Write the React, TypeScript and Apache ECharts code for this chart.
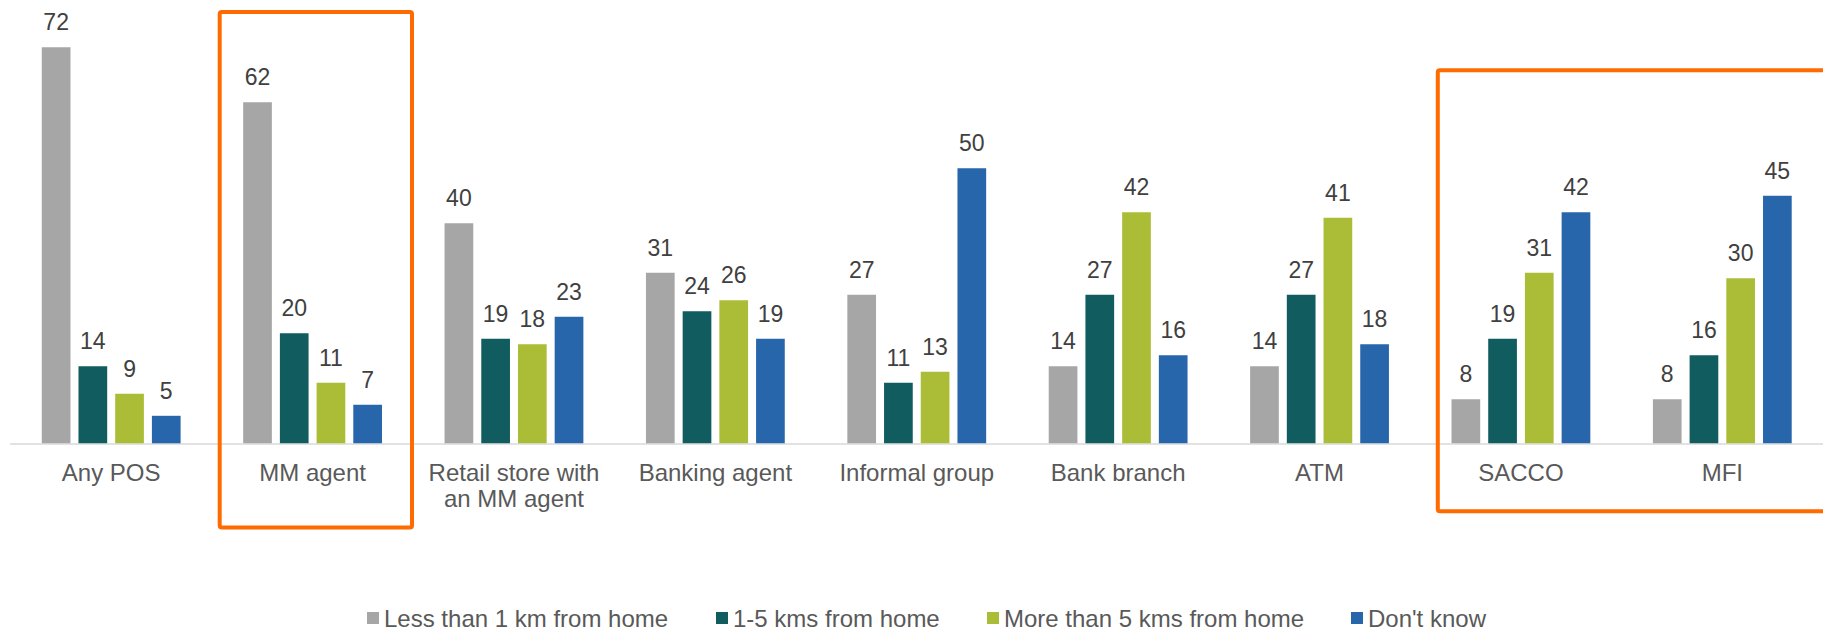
import React, { useEffect, useRef } from "react";
import * as echarts from "echarts";

const categories = [
  "Any POS",
  "MM agent",
  "Retail store with\nan MM agent",
  "Banking agent",
  "Informal group",
  "Bank branch",
  "ATM",
  "SACCO",
  "MFI",
];

const seriesNames = [
  "Less than 1 km from home",
  "1-5 kms from home",
  "More than 5 kms from home",
  "Don't know",
];

const lessThan1km = [72, 62, 40, 31, 27, 14, 14, 8, 8];
const oneToFiveKm = [14, 20, 19, 24, 11, 27, 27, 19, 16];
const moreThan5km = [9, 11, 18, 26, 13, 42, 41, 31, 30];
const dontKnow = [5, 7, 23, 19, 50, 16, 18, 42, 45];

const seriesValues = [lessThan1km, oneToFiveKm, moreThan5km, dontKnow];
const colors = ["#A6A6A6", "#115C5F", "#ABBD36", "#2866AC"];
const legendLefts = [367, 716, 987, 1351];

const FONT = 'Arial, "Liberation Sans", sans-serif';

export default function App() {
  const ref = useRef<HTMLDivElement>(null);

  useEffect(() => {
    if (!ref.current) return;
    const chart = echarts.init(ref.current, undefined, { renderer: "svg" });

    const series = seriesNames.map((name, i) => ({
      name,
      type: "bar",
      data: seriesValues[i],
      barWidth: 28.7,
      barGap: "27.9%",
      itemStyle: { color: colors[i] },
      label: {
        show: true,
        position: "top",
        distance: 13.5,
        color: "#404040",
        fontSize: 23,
        fontFamily: FONT,
      },
    }));

    const legends = seriesNames.map((name, i) => ({
      show: true,
      data: [name],
      left: legendLefts[i],
      top: 606,
      padding: 0,
      itemWidth: 12,
      itemHeight: 12,
      icon: "rect",
      textStyle: {
        color: "#595959",
        fontSize: 24,
        lineHeight: 24,
        fontFamily: FONT,
      },
    }));

    chart.setOption({
      animation: false,
      backgroundColor: "#ffffff",
      legend: legends,
      grid: { left: 10.5, top: 3.3, width: 1824.5, height: 440 },
      xAxis: {
        type: "category",
        data: categories,
        axisLine: { show: true, lineStyle: { color: "#D9D9D9", width: 1.5 } },
        axisTick: { show: false },
        axisLabel: {
          interval: 0,
          margin: 15.4,
          color: "#595959",
          fontSize: 24,
          lineHeight: 26.6,
          fontFamily: FONT,
        },
      },
      yAxis: {
        type: "value",
        min: 0,
        max: 80,
        show: false,
        splitLine: { show: false },
      },
      series,
      graphic: [
        {
          type: "rect",
          shape: { x: 219.7, y: 12, width: 192.3, height: 515.5, r: 2 },
          style: { fill: "none", stroke: "#FF6B00", lineWidth: 4 },
          z: 100,
        },
        {
          type: "rect",
          shape: { x: 1437.8, y: 70.3, width: 400, height: 441, r: 2 },
          style: { fill: "none", stroke: "#FF6B00", lineWidth: 4 },
          z: 100,
        },
      ],
    });

    return () => chart.dispose();
  }, []);

  return (
    <div
      ref={ref}
      style={{ position: "fixed", left: 0, top: 0, width: 1823, height: 630 }}
    />
  );
}
